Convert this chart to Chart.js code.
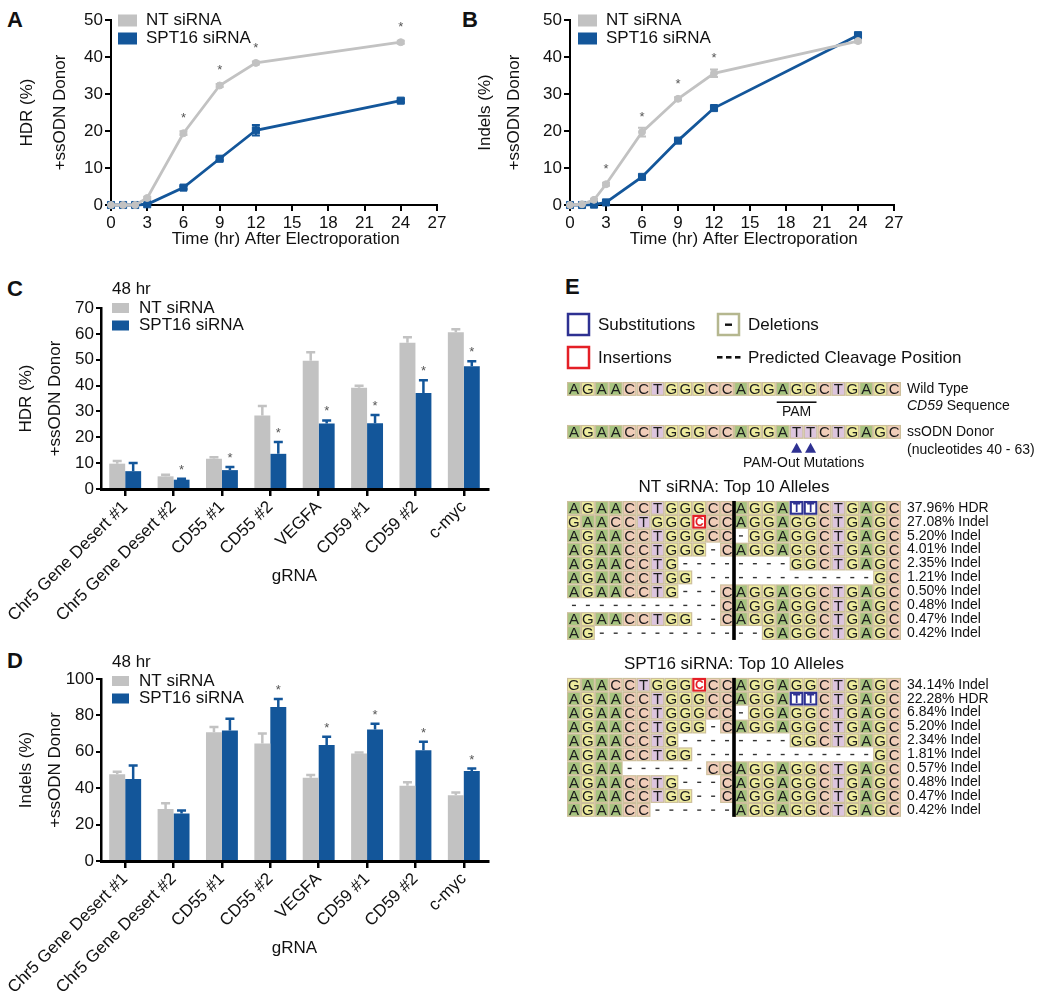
<!DOCTYPE html>
<html>
<head>
<meta charset="utf-8">
<title>SPT16 knockdown: HDR and indels</title>
<script src="https://cdn.jsdelivr.net/npm/chart.js@4.4.1/dist/chart.umd.min.js"></script>
<style>
  html, body { margin: 0; padding: 0; background: #fff; }
  body { width: 1040px; height: 1005px; position: relative; overflow: hidden; font-family: "Liberation Sans", Arial, sans-serif; }
  canvas { position: absolute; }
  .panel { position: absolute; font-weight: bold; font-size: 22px; line-height: 22px; color: #111; }
</style>
</head>
<body>
<div class="panel" style="left:7px;top:9px">A</div>
<div class="panel" style="left:462px;top:9px">B</div>
<div class="panel" style="left:7px;top:278px">C</div>
<div class="panel" style="left:7px;top:650px">D</div>
<div class="panel" style="left:565px;top:276px">E</div>

<canvas id="chartA" width="460" height="262" style="left:0;top:0;width:460px;height:262px"></canvas>
<canvas id="chartB" width="480" height="262" style="left:460px;top:0;width:480px;height:262px"></canvas>
<canvas id="chartC" width="540" height="365" style="left:0;top:270px;width:540px;height:365px"></canvas>
<canvas id="chartD" width="540" height="365" style="left:0;top:640px;width:540px;height:365px"></canvas>
<canvas id="chartE" width="480" height="560" style="left:560px;top:280px;width:480px;height:560px"></canvas>

<script>
const FONT = '"Liberation Sans", Arial, Helvetica, sans-serif';
Chart.defaults.font.family = FONT;
Chart.defaults.color = '#111';

const GRAY = '#c2c2c2';
const BLUE = '#13569a';

// ---- A / B : time course after electroporation ----
const hours = [0, 1, 2, 3, 6, 9, 12, 24];

const hdrNT = [0, 0, 0, 1.9, 19.4, 32.3, 38.4, 44.0];
const hdrNTErr = [0.1, 0.1, 0.1, 0.3, 0.5, 0.4, 0.4, 0.4];
const hdrSPT = [0, 0, 0, 0.2, 4.7, 12.5, 20.2, 28.2];
const hdrSPTErr = [0.1, 0.1, 0.1, 0.1, 0.4, 0.4, 1.4, 0.4];
const hdrSig = [false, false, false, false, true, true, true, true];

const indelNT = [0, 0.2, 1.4, 5.6, 19.7, 28.7, 35.6, 44.3];
const indelNTErr = [0.1, 0.1, 0.3, 0.4, 1.2, 0.4, 1.0, 0.4];
const indelSPT = [0, 0, 0.1, 0.7, 7.6, 17.4, 26.2, 45.9];
const indelSPTErr = [0.1, 0.1, 0.1, 0.2, 0.4, 0.4, 0.5, 0.4];
const indelSig = [false, false, false, true, true, true, true, false];

// ---- C / D : 48 hr per gRNA ----
const guides = ['Chr5 Gene Desert #1', 'Chr5 Gene Desert #2', 'CD55 #1', 'CD55 #2', 'VEGFA', 'CD59 #1', 'CD59 #2', 'c-myc'];

const hdr48NT = [9.8, 4.9, 11.7, 28.4, 49.6, 39.2, 56.6, 60.6];
const hdr48NTErr = [1.0, 0.6, 0.6, 3.7, 3.3, 0.7, 2.1, 1.2];
const hdr48SPT = [6.9, 3.6, 7.3, 13.6, 25.3, 25.4, 37.1, 47.5];
const hdr48SPTErr = [3.2, 0.4, 1.2, 4.6, 1.2, 3.2, 5.0, 1.9];
const hdr48Sig = [false, true, true, true, true, true, true, true];

const indel48NT = [47.7, 28.6, 70.8, 64.6, 45.7, 59.1, 41.3, 36.1];
const indel48NTErr = [1.3, 3.1, 2.8, 5.5, 1.6, 0.5, 2.0, 1.5];
const indel48SPT = [45.0, 26.1, 71.7, 84.6, 63.7, 72.3, 60.9, 49.4];
const indel48SPTErr = [7.5, 1.6, 6.5, 4.4, 4.6, 3.1, 4.6, 1.4];
const indel48Sig = [false, false, false, true, true, true, true, true];

// ---- E : CD59 alleles ----
const wildType = 'AGAACCTGGGCCAGGAGGCTGAGC';
const donorSeq = 'AGAACCTGGGCCAGGATTCTGAGC';
const pamCells = [16, 17, 18];
const pamOutCells = [17, 18];
const cutAfter = 12;
// lowercase = substitution, [X] = insertion, - = deletion
const ntAlleles = [
  'AGAACCTGGGCCAGGAttCTGAGC',
  'GAACCTGGG[C]CCAGGAGGCTGAGC',
  'AGAACCTGGGCC-GGAGGCTGAGC',
  'AGAACCTGGG-CAGGAGGCTGAGC',
  'AGAACCTG--------GGCTGAGC',
  'AGAACCTGG-------------GC',
  'AGAACCTG---CAGGAGGCTGAGC',
  '-----------CAGGAGGCTGAGC',
  'AGAACCTGG--CAGGAGGCTGAGC',
  'AG------------GAGGCTGAGC'
];
const ntLabels = ['37.96% HDR', '27.08% Indel', '5.20% Indel', '4.01% Indel', '2.35% Indel',
  '1.21% Indel', '0.50% Indel', '0.48% Indel', '0.47% Indel', '0.42% Indel'];
const sptAlleles = [
  'GAACCTGGG[C]CCAGGAGGCTGAGC',
  'AGAACCTGGGCCAGGAttCTGAGC',
  'AGAACCTGGGCC-GGAGGCTGAGC',
  'AGAACCTGGG-CAGGAGGCTGAGC',
  'AGAACCTG--------GGCTGAGC',
  'AGAACCTGG-------------GC',
  'AGAA------CCAGGAGGCTGAGC',
  'AGAACCTG---CAGGAGGCTGAGC',
  'AGAACCTGG--CAGGAGGCTGAGC',
  'AGAACC------AGGAGGCTGAGC'
];
const sptLabels = ['34.14% Indel', '22.28% HDR', '6.84% Indel', '5.20% Indel', '2.34% Indel',
  '1.81% Indel', '0.57% Indel', '0.48% Indel', '0.47% Indel', '0.42% Indel'];

// ---------- shared drawing helpers ----------
function drawErrors(chart, cfg) {
  const ctx = chart.ctx, ys = chart.scales.y;
  chart.data.datasets.forEach((ds, i) => {
    const meta = chart.getDatasetMeta(i);
    ctx.save();
    ctx.strokeStyle = ds.backgroundColor;
    ctx.lineWidth = cfg.errWidth;
    meta.data.forEach((el, j) => {
      const v = ds.values[j], e = ds.errors[j];
      const top = ys.getPixelForValue(v + e);
      const bot = ys.getPixelForValue(cfg.upOnly ? v : v - e);
      ctx.beginPath();
      ctx.moveTo(el.x, bot); ctx.lineTo(el.x, top);
      ctx.moveTo(el.x - cfg.cap, top); ctx.lineTo(el.x + cfg.cap, top);
      if (!cfg.upOnly) { ctx.moveTo(el.x - cfg.cap, bot); ctx.lineTo(el.x + cfg.cap, bot); }
      ctx.stroke();
    });
    ctx.restore();
  });
}

function drawStars(chart, cfg) {
  const ctx = chart.ctx, ys = chart.scales.y;
  const ds = chart.data.datasets[cfg.starRef];
  const meta = chart.getDatasetMeta(cfg.starRef);
  ctx.save();
  ctx.fillStyle = '#555';
  ctx.font = '13px ' + FONT;
  ctx.textAlign = 'center';
  ctx.textBaseline = 'alphabetic';
  cfg.sig.forEach((s, j) => {
    if (!s) return;
    const el = meta.data[j];
    const ref = cfg.starOnErr ? ys.getPixelForValue(ds.values[j] + ds.errors[j]) : el.y;
    ctx.fillText('*', el.x, ref - cfg.starGap + 7);
  });
  ctx.restore();
}

function drawLegend(chart, cfg) {
  const ctx = chart.ctx, lg = cfg.legend;
  ctx.save();
  ctx.font = '17px ' + FONT;
  ctx.textAlign = 'left';
  ctx.textBaseline = 'middle';
  chart.data.datasets.forEach((ds, i) => {
    const cy = lg.y + i * lg.gap;
    ctx.fillStyle = ds.backgroundColor;
    ctx.fillRect(lg.x, cy - lg.h / 2, lg.w, lg.h);
    ctx.fillStyle = '#111';
    ctx.fillText(ds.label, lg.x + lg.w + lg.textGap, cy);
  });
  if (cfg.note) ctx.fillText(cfg.note.text, cfg.note.x, cfg.note.y);
  ctx.restore();
}

function makeDecor(cfg) {
  return {
    id: 'decor',
    beforeDatasetsDraw(chart) { if (cfg.errBehind) drawErrors(chart, cfg); },
    afterDatasetsDraw(chart) {
      if (!cfg.errBehind) drawErrors(chart, cfg);
      drawStars(chart, cfg);
    },
    afterDraw(chart) { drawLegend(chart, cfg); }
  };
}

function axisStyle(width) {
  return {
    grid: { drawOnChartArea: false, tickLength: 6, color: '#000', tickColor: '#000', tickWidth: 2, lineWidth: 2 },
    border: { color: '#000', width: width }
  };
}

// ---------- A / B line charts ----------
function timeCourse(id, nt, ntErr, spt, sptErr, sig, yTitle, g) {
  return new Chart(document.getElementById(id), {
    type: 'line',
    data: {
      datasets: [
        {
          label: 'NT siRNA',
          data: hours.map((h, i) => ({ x: h, y: nt[i] })),
          values: nt, errors: ntErr,
          borderColor: GRAY, backgroundColor: GRAY,
          borderWidth: 2.8, tension: 0, clip: false,
          pointStyle: 'circle', pointRadius: 3.5, pointBorderWidth: 1, pointBorderColor: GRAY
        },
        {
          label: 'SPT16 siRNA',
          data: hours.map((h, i) => ({ x: h, y: spt[i] })),
          values: spt, errors: sptErr,
          borderColor: BLUE, backgroundColor: BLUE,
          borderWidth: 2.8, tension: 0, clip: false,
          pointStyle: 'rect', pointRadius: 5, pointBorderWidth: 1, pointBorderColor: BLUE
        }
      ]
    },
    options: {
      responsive: false,
      animation: false,
      devicePixelRatio: 1,
      layout: { padding: { left: 0, right: g.right, top: 20, bottom: 0 } },
      scales: {
        x: Object.assign(axisStyle(2), {
          type: 'linear', min: 0, max: 27,
          ticks: { stepSize: 3, font: { size: 17 }, padding: 2, color: '#111' },
          // leading spaces nudge the title right, as in the original layout
          title: { display: true, text: '     Time (hr) After Electroporation', font: { size: 17 }, color: '#111', padding: { top: 0, bottom: 12 } },
          afterFit(s) { s.height = 57; s.paddingLeft = 0; s.paddingRight = 0; }
        }),
        y: Object.assign(axisStyle(2), {
          type: 'linear', min: 0, max: 50,
          ticks: { stepSize: 10, font: { size: 17 }, padding: 2, color: '#111' },
          title: { display: true, text: yTitle, font: { size: 17, lineHeight: g.titleLH }, color: '#111', padding: { top: g.titlePad, bottom: 0 } },
          afterFit(s) { s.width = g.yWidth; }
        })
      },
      plugins: { legend: { display: false }, tooltip: { enabled: false } }
    },
    plugins: [makeDecor({
      errBehind: true, upOnly: false, errWidth: 2, cap: 4,
      sig: sig, starRef: 0, starOnErr: false, starGap: 18,
      legend: { x: 118, y: 20.5, w: 19, h: 12, gap: 18, textGap: 9 }
    })]
  });
}

timeCourse('chartA', hdrNT, hdrNTErr, hdrSPT, hdrSPTErr, hdrSig, ['HDR (%)', '+ssODN Donor'],
  { right: 23, yWidth: 111, titleLH: 1.94, titlePad: 10.5 });
timeCourse('chartB', indelNT, indelNTErr, indelSPT, indelSPTErr, indelSig, ['Indels (%)', '+ssODN Donor'],
  { right: 46, yWidth: 110, titleLH: 1.71, titlePad: 10.5 });

// ---------- C / D bar charts ----------
function guideBars(id, nt, ntErr, spt, sptErr, sig, yTitle, yMax, yStep, g) {
  return new Chart(document.getElementById(id), {
    type: 'bar',
    data: {
      labels: guides,
      datasets: [
        { label: 'NT siRNA', data: nt, values: nt, errors: ntErr, backgroundColor: GRAY, borderWidth: 0 },
        { label: 'SPT16 siRNA', data: spt, values: spt, errors: sptErr, backgroundColor: BLUE, borderWidth: 0 }
      ]
    },
    options: {
      responsive: false,
      animation: false,
      devicePixelRatio: 1,
      categoryPercentage: 0.66,
      barPercentage: 1,
      layout: { padding: { left: 0, right: 52, top: g.top, bottom: 0 } },
      scales: {
        x: {
          type: 'category', offset: true,
          grid: { offset: false, drawOnChartArea: false, tickLength: 7, color: '#000', tickColor: '#000', tickWidth: 2.5, lineWidth: 2.5 },
          border: { color: '#000', width: 3 },
          ticks: { autoSkip: false, maxRotation: 45, minRotation: 45, font: { size: 17 }, padding: 1, color: '#111' },
          title: { display: true, text: 'gRNA', font: { size: 17 }, color: '#111', padding: { top: 0, bottom: g.titleBottom } },
          afterFit(s) { s.height = g.xHeight; s.paddingLeft = 0; s.paddingRight = 0; }
        },
        y: {
          type: 'linear', min: 0, max: yMax,
          grid: { drawOnChartArea: false, tickLength: 5, color: '#000', tickColor: '#000', tickWidth: 2, lineWidth: 2 },
          border: { color: '#000', width: 2.5 },
          ticks: { stepSize: yStep, font: { size: 17 }, padding: 2, color: '#111' },
          title: { display: true, text: yTitle, font: { size: 17, lineHeight: 1.67 }, color: '#111', padding: { top: 12.5, bottom: 0 } },
          afterFit(s) { s.width = 101; }
        }
      },
      plugins: { legend: { display: false }, tooltip: { enabled: false } }
    },
    plugins: [makeDecor({
      errBehind: false, upOnly: true, errWidth: 2.5, cap: 4.5,
      sig: sig, starRef: 1, starOnErr: true, starGap: 12,
      legend: { x: 112, y: g.legendY, w: 17, h: 10, gap: 17.5, textGap: 10 },
      note: { text: '48 hr', x: 112, y: g.legendY - 19 }
    })]
  });
}

guideBars('chartC', hdr48NT, hdr48NTErr, hdr48SPT, hdr48SPTErr, hdr48Sig, ['HDR (%)', '+ssODN Donor'], 70, 10,
  { top: 38, xHeight: 146, titleBottom: 48, legendY: 38 });
guideBars('chartD', indel48NT, indel48NTErr, indel48SPT, indel48SPTErr, indel48Sig, ['Indels (%)', '+ssODN Donor'], 100, 20,
  { top: 39, xHeight: 144, titleBottom: 46, legendY: 41 });

// ---------- E : allele alignment ----------
const baseColors = { A: '#a6c47f', G: '#eeec9e', C: '#f0cdb9', T: '#dcc5de' };
const TAN = '#cdbf9b';
const SUB_BLUE = '#2e3192';
const INS_RED = '#e41f26';
const eRows = { wt: 0, donor: 3.09, nt: 8.56, spt: 21.29 };

function parseAllele(s) {
  const cells = [];
  for (let i = 0; i < s.length; i++) {
    const ch = s[i];
    if (ch === '[') { cells.push({ b: s[i + 1], kind: 'ins' }); i += 2; }
    else if (ch === '-') cells.push({ b: '-', kind: 'del' });
    else if (ch !== ch.toUpperCase()) cells.push({ b: ch.toUpperCase(), kind: 'sub' });
    else cells.push({ b: ch, kind: 'base' });
  }
  return cells;
}

function drawAllele(ctx, xs, ys, seq, r) {
  const y0 = ys.getPixelForValue(r), y1 = ys.getPixelForValue(r + 1);
  const h = y1 - y0, cy = (y0 + y1) / 2;
  parseAllele(seq).forEach((c, i) => {
    const x0 = xs.getPixelForValue(i), x1 = xs.getPixelForValue(i + 1);
    const w = x1 - x0, cx = (x0 + x1) / 2;
    if (c.kind === 'del') {
      ctx.fillStyle = '#333';
      ctx.fillRect(cx - 2, cy - 0.5, 4, 1.4);
      return;
    }
    if (c.kind === 'base') {
      ctx.fillStyle = TAN;
      ctx.fillRect(x0, y0, w, h);
      ctx.fillStyle = baseColors[c.b];
      ctx.fillRect(x0 + 1.2, y0 + 1.2, w - 2.4, h - 2.4);
      ctx.fillStyle = '#1c1c1c';
      ctx.font = '15px ' + FONT;
    } else {
      const col = c.kind === 'sub' ? SUB_BLUE : INS_RED;
      ctx.fillStyle = '#fff';
      ctx.fillRect(x0, y0, w, h);
      ctx.strokeStyle = col;
      ctx.lineWidth = 2.2;
      ctx.strokeRect(x0 + 1.1, y0 + 1.1, w - 2.2, h - 2.2);
      ctx.fillStyle = col;
      ctx.font = 'bold 12px ' + FONT;
    }
    ctx.textAlign = 'center';
    ctx.textBaseline = 'alphabetic';
    ctx.fillText(c.b, cx, cy + (c.kind === 'base' ? 5.4 : 4.5));
  });
}

const alignmentPlugin = {
  id: 'alignment',
  afterDraw(chart) {
    const ctx = chart.ctx, xs = chart.scales.x, ys = chart.scales.y, area = chart.chartArea;
    const labelX = area.right + 6;
    const rowMid = r => (ys.getPixelForValue(r) + ys.getPixelForValue(r + 1)) / 2;
    ctx.save();

    // legend
    ctx.lineWidth = 2.5;
    ctx.strokeStyle = SUB_BLUE; ctx.strokeRect(8, 34, 21, 21);
    ctx.strokeStyle = INS_RED; ctx.strokeRect(8, 67, 21, 21);
    ctx.strokeStyle = '#b5b78f'; ctx.strokeRect(158, 34, 21, 21);
    ctx.fillStyle = '#111';
    ctx.fillRect(165, 43.5, 7, 2.4);
    [157, 166, 175].forEach(x => ctx.fillRect(x, 76, 5.5, 2.6));
    ctx.font = '17px ' + FONT;
    ctx.textAlign = 'left'; ctx.textBaseline = 'middle';
    ctx.fillText('Substitutions', 38, 45);
    ctx.fillText('Deletions', 188, 45);
    ctx.fillText('Insertions', 38, 78);
    ctx.fillText('Predicted Cleavage Position', 188, 78);

    // reference sequences
    drawAllele(ctx, xs, ys, wildType, eRows.wt);
    drawAllele(ctx, xs, ys, donorSeq, eRows.donor);
    ctx.font = '14px ' + FONT; ctx.fillStyle = '#111';
    ctx.textAlign = 'left'; ctx.textBaseline = 'middle';
    ctx.fillText('Wild Type', labelX, rowMid(eRows.wt));
    ctx.font = 'italic 14px ' + FONT;
    ctx.fillText('CD59', labelX, rowMid(eRows.wt) + 17);
    const wItal = ctx.measureText('CD59').width;
    ctx.font = '14px ' + FONT;
    ctx.fillText(' Sequence', labelX + wItal, rowMid(eRows.wt) + 17);
    ctx.fillText('ssODN Donor', labelX, rowMid(eRows.donor));
    ctx.fillText('(nucleotides 40 - 63)', labelX, rowMid(eRows.donor) + 18);

    // PAM bar
    const wtBottom = ys.getPixelForValue(eRows.wt + 1);
    const pamL = xs.getPixelForValue(pamCells[0] - 1) + 1;
    const pamR = xs.getPixelForValue(pamCells[pamCells.length - 1]) - 1;
    ctx.fillRect(pamL, wtBottom + 5.5, pamR - pamL, 1.6);
    ctx.textAlign = 'center';
    ctx.fillText('PAM', (pamL + pamR) / 2, wtBottom + 16);

    // PAM-out triangles
    const dBottom = ys.getPixelForValue(eRows.donor + 1);
    ctx.fillStyle = SUB_BLUE;
    pamOutCells.forEach(p => {
      const cx = xs.getPixelForValue(p - 0.5);
      ctx.beginPath();
      ctx.moveTo(cx, dBottom + 4);
      ctx.lineTo(cx + 5.5, dBottom + 14);
      ctx.lineTo(cx - 5.5, dBottom + 14);
      ctx.closePath();
      ctx.fill();
    });
    ctx.fillStyle = '#111';
    ctx.fillText('PAM-Out Mutations', xs.getPixelForValue(pamOutCells[0]), dBottom + 24);

    // allele blocks
    [[ntAlleles, ntLabels, eRows.nt, 'NT siRNA: Top 10 Alleles'],
     [sptAlleles, sptLabels, eRows.spt, 'SPT16 siRNA: Top 10 Alleles']].forEach(([alleles, labels, r0, title]) => {
      ctx.font = '17px ' + FONT; ctx.fillStyle = '#111';
      ctx.textAlign = 'center'; ctx.textBaseline = 'middle';
      ctx.fillText(title, (area.left + area.right) / 2, ys.getPixelForValue(r0) - 14);
      alleles.forEach((seq, k) => drawAllele(ctx, xs, ys, seq, r0 + k));
      ctx.font = '14px ' + FONT; ctx.fillStyle = '#111';
      ctx.textAlign = 'left'; ctx.textBaseline = 'middle';
      labels.forEach((t, k) => ctx.fillText(t, labelX, rowMid(r0 + k)));
      const cutX = xs.getPixelForValue(cutAfter);
      ctx.fillStyle = '#000';
      ctx.fillRect(cutX - 1.8, ys.getPixelForValue(r0), 3.6, ys.getPixelForValue(r0 + alleles.length) - ys.getPixelForValue(r0));
    });
    ctx.restore();
  }
};

new Chart(document.getElementById('chartE'), {
  type: 'scatter',
  data: { datasets: [{ data: [] }] },
  options: {
    responsive: false,
    animation: false,
    devicePixelRatio: 1,
    layout: { padding: { left: 7, right: 139, top: 102, bottom: 23 } },
    scales: {
      x: { type: 'linear', min: 0, max: 24, display: false },
      y: { type: 'linear', min: 0, max: 31.3, reverse: true, display: false }
    },
    plugins: { legend: { display: false }, tooltip: { enabled: false } }
  },
  plugins: [alignmentPlugin]
});
</script>
</body>
</html>
